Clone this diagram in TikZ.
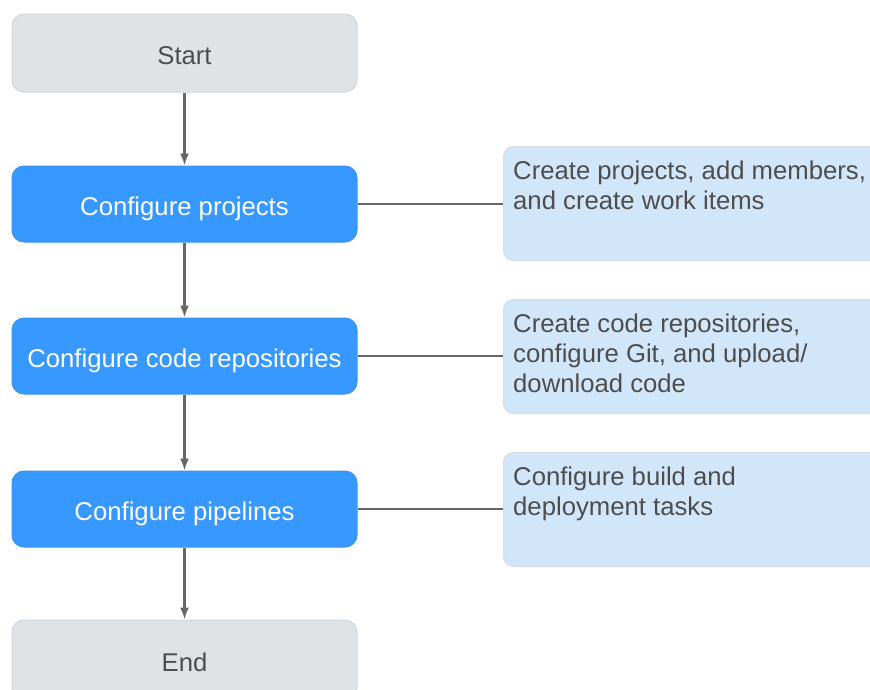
\documentclass[tikz,border=0pt]{standalone}
\usepackage{fontspec}
\setmainfont{Liberation Sans}
\usetikzlibrary{arrows.meta}
\definecolor{grayfill}{HTML}{E0E3E6}
\definecolor{grayline}{HTML}{D3D6D9}
\definecolor{bluefill}{HTML}{3799FF}
\definecolor{bluel}{HTML}{3A94F0}
\definecolor{notefill}{HTML}{D2E6F9}
\definecolor{noteline}{HTML}{D8DCE0}
\definecolor{txt}{HTML}{4D4D4D}
\definecolor{conn}{HTML}{666666}
\newcommand{\toprule}{\rule{0pt}{20pt}}
\tikzset{
  x=1pt, y=-1pt,
  every node/.style={font=\fontsize{25.7}{30}\selectfont},
  termbox/.style={draw=grayline, line width=1pt, fill=grayfill, rounded corners=12pt,
    minimum width=345pt, inner sep=0pt, text=txt, text height=24pt, text depth=1pt},
  stepbox/.style={draw=bluel, line width=1pt, fill=bluefill, rounded corners=12pt,
    minimum width=345pt, minimum height=76pt, inner sep=0pt, text=white,
    text height=24pt, text depth=1pt},
  notebox/.style={draw=noteline, line width=1pt, fill=notefill, rounded corners=10pt,
    minimum width=377pt, minimum height=114pt, inner sep=0pt, anchor=north west},
  notetext/.style={anchor=north west, align=left, inner sep=0pt, text=txt},
  flow/.style={draw=conn, line width=2.2pt, -{Latex[length=12pt,width=9pt]}},
  link/.style={draw=conn, line width=2.2pt}
}
\begin{document}
\begin{tikzpicture}
\useasboundingbox (0,0) rectangle (870,689);
\node[termbox, minimum height=78pt] (start) at (184.5,53) {Start};
\node[stepbox] (cp) at (184.5,204) {Configure projects};
\node[stepbox] (ccr) at (184.5,356) {Configure code repositories};
\node[stepbox] (cpl) at (184.5,509) {Configure pipelines};
\node[termbox, minimum height=80pt] (end) at (184.5,660) {End};

\node[notebox] (n1) at (503,146) {};
\node[notebox] (n2) at (503,299) {};
\node[notebox] (n3) at (503,452) {};

\node[notetext] (t1) at ([shift={(10,13)}]n1.north west) {\toprule Create projects, add members,\\and create work items};
\node[notetext] (t2) at ([shift={(10,13)}]n2.north west) {\toprule Create code repositories,\\configure Git, and upload/\\download code};
\node[notetext] (t3) at ([shift={(10,13)}]n3.north west) {\toprule Configure build and\\deployment tasks};

\draw[flow] (start) -- (cp);
\draw[flow] (cp) -- (ccr);
\draw[flow] (ccr) -- (cpl);
\draw[flow] (cpl) -- (end);

\draw[link] (cp.east) -- (cp.east -| n1.west);
\draw[link] (ccr.east) -- (ccr.east -| n2.west);
\draw[link] (cpl.east) -- (cpl.east -| n3.west);
\end{tikzpicture}
\end{document}
